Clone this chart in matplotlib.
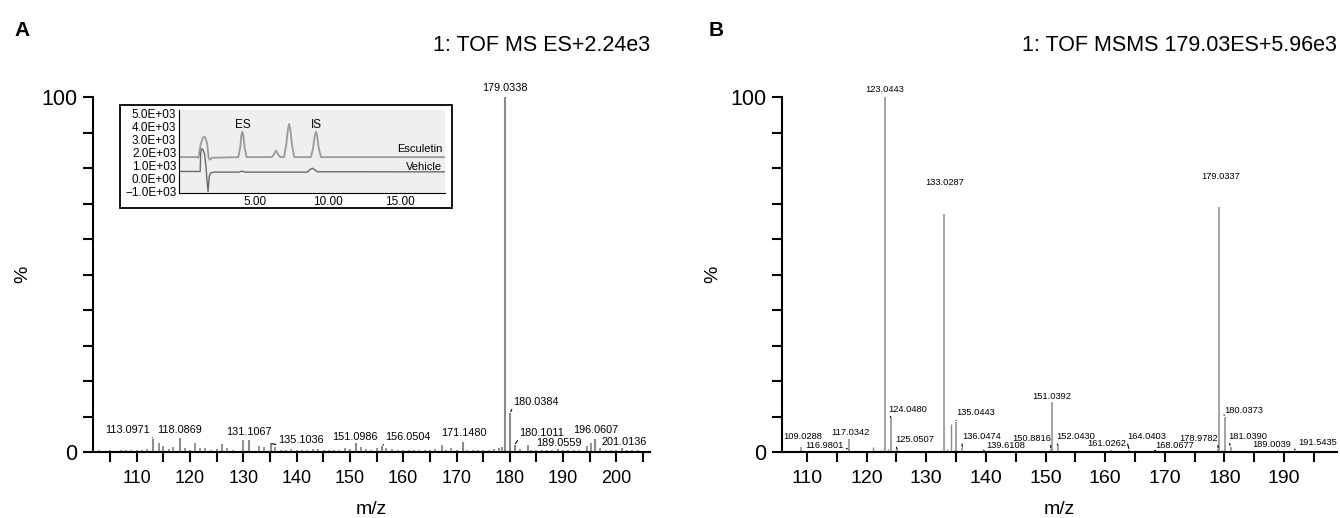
import matplotlib
matplotlib.use('Agg')
import matplotlib.pyplot as plt
from matplotlib.patches import Rectangle
from matplotlib.ticker import MultipleLocator, FixedLocator, FuncFormatter

plt.rcParams['font.family'] = ['Liberation Sans', 'DejaVu Sans']

# ---- panel A: TOF MS scan (m/z, relative intensity %) ----
a_peak_mz = [113.0971, 118.0869, 131.1067, 135.1036, 151.0986, 156.0504, 171.1480,
             179.0338, 180.0384, 180.9, 189.0559, 196.0607, 201.0136]
a_peak_int = [3.7, 4.0, 3.3, 2.4, 2.5, 1.6, 2.8, 100, 11.0, 2.0, 0.8, 3.7, 1.0]
a_peak_text = ['113.0971', '118.0869', '131.1067', '135.1036', '151.0986', '156.0504', '171.1480',
               '179.0338', '180.0384', '180.1011', '189.0559', '196.0607', '201.0136']
a_minor_mz = [103.0, 104.0, 105.0, 106.0, 107.0, 108.0, 109.0, 110.0, 111.0, 112.0, 114.1, 114.9,
              116.0, 116.9, 119.0, 120.0, 121.0, 121.9, 122.9, 124.0, 125.0, 126.0, 126.9, 128.0,
              129.9, 132.9, 133.8, 136.0, 137.0, 138.0, 139.0, 140.1, 141.0, 142.0, 143.0, 144.0,
              145.1, 146.0, 147.0, 148.0, 149.0, 150.0, 152.1, 153.0, 154.0, 155.0, 156.8, 157.8,
              159.0, 160.0, 161.0, 162.0, 163.0, 164.0, 165.0, 166.0, 167.2, 168.0, 169.0, 170.0,
              172.0, 173.0, 174.0, 175.0, 176.0, 177.0, 178.0, 178.6, 181.9, 183.4, 184.0, 185.0,
              186.0, 187.0, 188.0, 190.0, 191.0, 192.0, 193.0, 194.5, 195.3, 197.0, 198.0, 199.0,
              200.0, 202.0, 203.0, 204.0, 205.0]
a_minor_int = [0.5, 0.4, 0.5, 0.4, 0.6, 0.5, 0.7, 0.5, 0.6, 0.8, 2.5, 1.6,
               0.8, 1.4, 1.0, 0.7, 2.6, 1.2, 1.0, 0.6, 0.8, 2.2, 1.0, 0.6,
               3.3, 1.8, 1.5, 1.5, 0.7, 0.5, 0.8, 0.6, 0.5, 0.7, 0.9, 0.8,
               0.5, 0.6, 0.7, 0.5, 1.0, 0.8, 1.3, 0.9, 0.6, 1.0, 1.2, 0.8,
               0.5, 0.5, 0.6, 0.5, 0.7, 0.5, 0.6, 0.8, 2.1, 0.7, 1.0, 0.6,
               0.7, 0.5, 0.6, 0.5, 0.7, 0.9, 1.0, 1.5, 0.8, 2.0, 0.6, 0.5,
               0.6, 0.5, 0.5, 0.5, 0.6, 0.5, 0.7, 1.7, 2.5, 1.0, 0.6, 0.7,
               0.5, 0.5, 0.6, 0.5, 0.4]

# ---- panel B: TOF MSMS of 179.03 ----
b_peak_mz = [109.0288, 116.9801, 117.0342, 123.0443, 124.0480, 125.0507, 133.0287, 135.0443,
             136.0474, 139.6108, 150.8816, 151.0392, 152.0430, 161.0262, 164.0403, 168.0677,
             178.9782, 179.0337, 180.0373, 181.0390, 189.0039, 191.5435]
b_peak_int = [1.5, 0.8, 3.6, 100, 9.8, 1.0, 67.0, 8.5, 1.0, 0.5, 0.8, 14.0, 2.0, 0.5, 0.6, 0.4,
              0.8, 69.0, 10.0, 1.5, 0.5, 0.4]
b_minor_mz = [106.5, 107.2, 108.0, 111.0, 112.5, 114.0, 115.5, 118.5, 120.0, 121.0, 122.3, 122.7,
              123.5, 124.5, 125.5, 126.5, 128.0, 131.0, 132.5, 133.5, 134.1, 134.6, 137.0, 138.0,
              141.0, 145.0, 149.0, 153.0, 155.0, 158.0, 162.0, 163.0, 166.0, 172.0, 176.0, 179.6,
              182.0, 186.0, 193.0]
b_minor_int = [0.3, 0.3, 0.4, 0.3, 0.3, 0.3, 0.3, 0.3, 0.4, 1.5, 0.5, 0.7,
               0.8, 0.6, 0.4, 0.3, 0.3, 0.3, 0.5, 0.8, 7.9, 0.6, 0.3, 0.3,
               0.3, 0.3, 0.3, 0.4, 0.3, 0.3, 0.4, 0.3, 0.3, 0.3, 0.3, 0.5,
               0.3, 0.3, 0.3]

# ---- inset chromatogram (time min, intensity) ----
esc_t = [-0.24, 1.0, 1.1, 1.25, 1.4, 1.55, 1.7, 1.8, 1.9, 2.05, 3.85, 3.98, 4.06, 4.13, 4.2, 4.28,
         4.42, 6.15, 6.3, 6.45, 6.6, 6.75, 7.0, 7.15, 7.27, 7.35, 7.43, 7.55, 7.7, 8.85, 9.0, 9.12,
         9.2, 9.28, 9.4, 9.55, 18.1]
esc_y = [1650, 1650, 1600, 2600, 3150, 3200, 2700, 1600, 1450, 1600, 1650, 2400, 3300, 3600, 3300,
         2400, 1650, 1650, 1850, 2150, 1850, 1650, 1650, 2600, 3800, 4180, 3800, 2600, 1650, 1650,
         2300, 3300, 3600, 3300, 2300, 1650, 1650]
veh_t = [-0.24, 1.22, 1.25, 1.32, 1.42, 1.52, 1.62, 1.7, 1.76, 1.85, 1.95, 2.2, 3.9, 4.1, 4.3,
         8.6, 8.8, 8.95, 9.1, 9.3, 18.1]
veh_y = [550, 550, 1900, 2300, 2200, 1900, 900, -300, -1000, 200, 450, 500, 500, 580, 500,
         500, 700, 800, 700, 530, 520]

# label placement (layout only): text centre in data coords, leader anchor on text (None = no leader)
a_label_xy = [(108.3, 6.2), (118.1, 6.2), (131.1, 5.7), (140.9, 3.4), (150.9, 4.2), (160.9, 4.3),
              (171.3, 5.4), (179.06, 102.6), (184.9, 14.2), (186.0, 5.4), (189.2, 2.5),
              (196.2, 6.2), (201.5, 2.9)]
a_label_rel = [(1, 0), None, None, (0, 0), None, (0, 0), None, None, (0, 0), (0, 0), None, None, None]
b_label_xy = [(109.2, 4.3), (112.9, 1.7), (117.2, 5.4), (123.0, 102.2), (126.9, 12.1), (128.1, 3.4),
              (133.0, 75.8), (138.2, 11.0), (139.2, 4.3), (143.4, 1.7), (147.6, 3.9), (151.1, 15.5),
              (155.0, 4.3), (160.2, 2.5), (166.9, 4.3), (171.7, 1.7), (175.6, 3.9), (179.3, 77.7),
              (183.2, 11.8), (184.0, 4.5), (187.9, 2.0), (195.6, 2.6)]
b_label_rel = [None, (1, 0.3), None, None, (0, 0), (0, 0), None, (0, 0), (0, 0), (0, 0), (1, 0),
               None, (0, 0), None, (0, 0), (0, 0), (1, 0), None, (0, 0), (0, 0), None, (0, 0)]

PEAK = '#8a8a8a'


def style_axes(ax, xlim, xfs):
    ax.set_xlim(*xlim)
    ax.set_ylim(0, 100)
    for s in ('top', 'right'):
        ax.spines[s].set_visible(False)
    for s in ('left', 'bottom'):
        ax.spines[s].set_linewidth(1.5)
    ax.xaxis.set_major_locator(MultipleLocator(10))
    ax.xaxis.set_minor_locator(MultipleLocator(5))
    ax.yaxis.set_major_locator(FixedLocator([0, 100]))
    ax.yaxis.set_minor_locator(MultipleLocator(10))
    ax.tick_params(which='both', direction='out', width=1.5, length=7)
    ax.tick_params(axis='x', labelsize=xfs, pad=6)
    ax.tick_params(axis='y', labelsize=15.5, pad=4)
    ax.set_xlabel('m/z', fontsize=14, labelpad=10)
    ax.set_ylabel('%', fontsize=14)
    ax.yaxis.set_label_coords(-0.11, 0.5)


def label_peaks(ax, mzs, ints, texts, xy, rel, fs):
    for mz, h, t, (lx, ly), r in zip(mzs, ints, texts, xy, rel):
        if r is None:
            ax.text(lx, ly, t, ha='center', va='center', fontsize=fs, clip_on=False)
        else:
            ax.annotate(t, xy=(mz, h), xytext=(lx, ly), ha='center', va='center', fontsize=fs,
                        annotation_clip=False,
                        arrowprops=dict(arrowstyle='-', lw=0.8, color='black', shrinkA=0,
                                        shrinkB=1, relpos=r))


fig = plt.figure(figsize=(13.4, 5.18), dpi=100)

# panel A
axA = fig.add_axes([0.0694, 0.1274, 0.4157, 0.6853])
axA.vlines(a_minor_mz, 0, a_minor_int, color=PEAK, lw=1.3)
axA.vlines(a_peak_mz, 0, a_peak_int, color=PEAK, lw=1.5)
style_axes(axA, (101.8, 206.3), 13)
label_peaks(axA, a_peak_mz, a_peak_int, a_peak_text, a_label_xy, a_label_rel, 7.8)

# panel B
axB = fig.add_axes([0.5836, 0.1274, 0.4142, 0.6853])
axB.vlines(b_minor_mz, 0, b_minor_int, color=PEAK, lw=1.0)
axB.vlines(b_peak_mz, 0, b_peak_int, color=PEAK, lw=1.1)
style_axes(axB, (105.8, 198.9), 14)
b_text = [f'{m:.4f}' for m in b_peak_mz]
label_peaks(axB, b_peak_mz, b_peak_int, b_text, b_label_xy, b_label_rel, 6.7)

# inset chromatogram
fig.patches.append(Rectangle((0.0896, 0.5985), 0.2477, 0.1988, transform=fig.transFigure,
                             fill=False, lw=1.3, edgecolor='black', zorder=5))
axI = fig.add_axes([0.1336, 0.6274, 0.1985, 0.160])
axI.set_facecolor('#efefef')
axI.plot(esc_t, esc_y, color='#9a9a9a', lw=1.3)
axI.plot(veh_t, veh_y, color='#6a6a6a', lw=1.0)
axI.set_xlim(-0.24, 18.1)
axI.set_ylim(-1100, 5250)
axI.xaxis.set_major_locator(FixedLocator([5, 10, 15]))
axI.xaxis.set_major_formatter(FuncFormatter(lambda v, p: f'{v:.2f}'))
axI.yaxis.set_major_locator(MultipleLocator(1000))
axI.yaxis.set_major_formatter(FuncFormatter(lambda v, p: f'{v:.1E}'.replace('-', '\u2212')))
axI.tick_params(labelsize=8.5, length=0, pad=2)
for s in ('top', 'right'):
    axI.spines[s].set_visible(False)
axI.text(4.13, 4100, 'ES', ha='center', va='center', fontsize=8.5)
axI.text(9.2, 4100, 'IS', ha='center', va='center', fontsize=8.5)
axI.text(17.9, 2250, 'Esculetin', ha='right', va='center', fontsize=8)
axI.text(17.9, 920, 'Vehicle', ha='right', va='center', fontsize=8)

# headers
fig.text(0.011, 0.942, 'A', fontsize=15, fontweight='bold', va='center')
fig.text(0.529, 0.942, 'B', fontsize=15, fontweight='bold', va='center')
fig.text(0.485, 0.913, '1: TOF MS ES+2.24e3', fontsize=15.5, ha='right', va='center')
fig.text(0.998, 0.913, '1: TOF MSMS 179.03ES+5.96e3', fontsize=15.5, ha='right', va='center')

fig.savefig('out.png', dpi=100)
